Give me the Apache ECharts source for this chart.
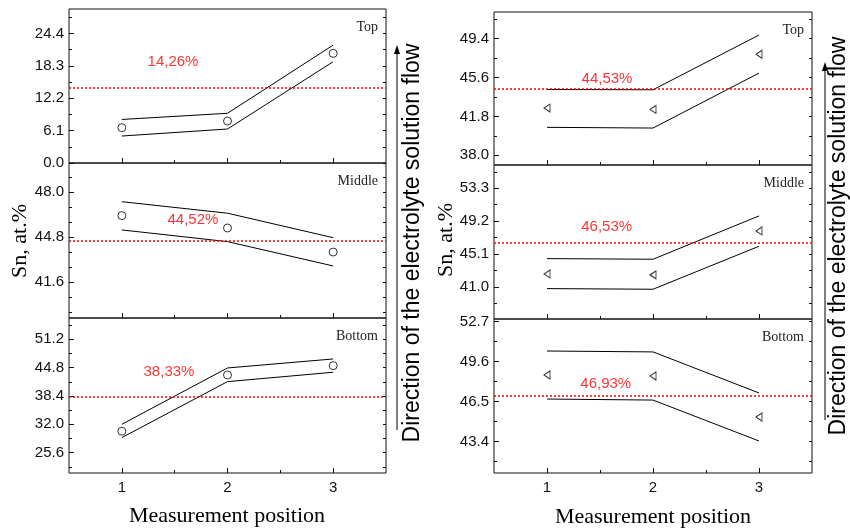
<!DOCTYPE html>
<html><head><meta charset="utf-8">
<script src="https://cdn.jsdelivr.net/npm/echarts@6/dist/echarts.min.js"></script>
<style>html,body{margin:0;padding:0;background:#fff}#c{width:850px;height:528px}</style>
</head><body><div id="c"></div>
<script>
// ---------- data ----------
const positions = [1, 2, 3];
const panelNames = ['Top', 'Middle', 'Bottom'];

// left column (circles)
const leftTopPoints = [6.65, 7.9, 20.65];
const leftTopUpper  = [8.2, 9.36, 22.2];
const leftTopLower  = [5.08, 6.4, 19.07];
const leftTopMean   = 14.26;
const leftTopTicks  = [0.0, 6.1, 12.2, 18.3, 24.4];
const leftTopRange  = [0, 29.0];

const leftMidPoints = [46.34, 45.46, 43.75];
const leftMidUpper  = [47.33, 46.51, 44.77];
const leftMidLower  = [45.32, 44.49, 42.76];
const leftMidMean   = 44.52;
const leftMidTicks  = [41.6, 44.8, 48.0];
const leftMidRange  = [39.06, 50.08];

const leftBotPoints = [30.43, 43.14, 45.24];
const leftBotUpper  = [32.0, 44.72, 46.75];
const leftBotLower  = [28.99, 41.63, 43.75];
const leftBotMean   = 38.33;
const leftBotTicks  = [25.6, 32.0, 38.4, 44.8, 51.2];
const leftBotRange  = [21.0, 56.0];

// right column (triangles)
const rightTopPoints = [42.61, 42.48, 47.87];
const rightTopUpper  = [44.43, 44.40, 49.75];
const rightTopLower  = [40.73, 40.66, 46.03];
const rightTopMean   = 44.53;
const rightTopTicks  = [38.0, 41.8, 45.6, 49.4];
const rightTopRange  = [37.05, 52.0];

const rightMidPoints = [42.62, 42.5, 47.98];
const rightMidUpper  = [44.53, 44.45, 49.85];
const rightMidLower  = [40.79, 40.71, 46.07];
const rightMidMean   = 46.53;
const rightMidTicks  = [41.0, 45.1, 49.2, 53.3];
const rightMidRange  = [37.0, 56.2];

const rightBotPoints = [48.56, 48.48, 45.31];
const rightBotUpper  = [50.42, 50.35, 47.17];
const rightBotLower  = [46.7, 46.62, 43.45];
const rightBotMean   = 46.93;
const rightBotTicks  = [43.4, 46.5, 49.6, 52.7];
const rightBotRange  = [40.97, 52.9];

// ---------- layout (not data) ----------
const gridRects = [
  {left: 69, top: 9,   width: 317, height: 154},
  {left: 69, top: 163, width: 317, height: 155},
  {left: 69, top: 318, width: 317, height: 155},
  {left: 494, top: 12,  width: 318, height: 153},
  {left: 494, top: 165, width: 318, height: 154},
  {left: 494, top: 319, width: 318, height: 154}
];
const meanLabelAt = [[1.484, 19.0], [1.673, 46.03], [1.446, 43.88], [1.566, 45.5], [1.563, 48.48], [1.554, 47.84]];
const minorCounts = [1, 2, 1, 1, 1, 1];

const panels = [
  {points: leftTopPoints, upper: leftTopUpper, lower: leftTopLower, mean: leftTopMean, ticks: leftTopTicks, range: leftTopRange, sym: 'circle', name: panelNames[0]},
  {points: leftMidPoints, upper: leftMidUpper, lower: leftMidLower, mean: leftMidMean, ticks: leftMidTicks, range: leftMidRange, sym: 'circle', name: panelNames[1]},
  {points: leftBotPoints, upper: leftBotUpper, lower: leftBotLower, mean: leftBotMean, ticks: leftBotTicks, range: leftBotRange, sym: 'circle', name: panelNames[2]},
  {points: rightTopPoints, upper: rightTopUpper, lower: rightTopLower, mean: rightTopMean, ticks: rightTopTicks, range: rightTopRange, sym: 'triangle', name: panelNames[0]},
  {points: rightMidPoints, upper: rightMidUpper, lower: rightMidLower, mean: rightMidMean, ticks: rightMidTicks, range: rightMidRange, sym: 'triangle', name: panelNames[1]},
  {points: rightBotPoints, upper: rightBotUpper, lower: rightBotLower, mean: rightBotMean, ticks: rightBotTicks, range: rightBotRange, sym: 'triangle', name: panelNames[2]}
];

function minorValues(ticks, n, min, max) {
  const step = (ticks[1] - ticks[0]) / (n + 1);
  const out = [];
  for (let v = ticks[0] - step; v >= min - 1e-9; v -= step) out.push(v);
  for (let v = ticks[0] + step; v <= max + 1e-9; v += step) {
    if (!ticks.some(t => Math.abs(t - v) < 1e-6)) out.push(v);
  }
  return out;
}

const SANS = '"Liberation Sans", Arial, sans-serif';
const SERIF = '"Liberation Serif", "Times New Roman", serif';
const RED = '#ff0000';
const grid = [], xAxis = [], yAxis = [], series = [], graphic = [];

panels.forEach((p, i) => {
  const r = gridRects[i];
  grid.push(Object.assign({show: true, borderColor: '#111', borderWidth: 1, backgroundColor: 'transparent'}, r));
  const isBottom = (i % 3) === 2;
  const xBase = xAxis.length;
  xAxis.push({
    type: 'value', gridIndex: i, min: 0.5, max: 3.5, position: 'bottom',
    axisLine: {show: false}, splitLine: {show: false},
    axisTick: {show: true, inside: true, length: 5, customValues: positions, lineStyle: {color: '#111'}},
    axisLabel: {show: isBottom, customValues: positions, margin: 7, fontFamily: SANS, fontSize: 15, color: '#111', formatter: v => String(v)}
  });
  xAxis.push({
    type: 'value', gridIndex: i, min: 0.5, max: 3.5, position: 'bottom',
    axisLine: {show: false}, splitLine: {show: false},
    axisTick: {show: true, inside: true, length: 3, customValues: [1.5, 2.5], lineStyle: {color: '#111'}},
    axisLabel: {show: false}
  });
  const yBase = yAxis.length;
  const minors = minorValues(p.ticks, minorCounts[i], p.range[0], p.range[1]);
  yAxis.push({
    type: 'value', gridIndex: i, min: p.range[0], max: p.range[1], position: 'left',
    axisLine: {show: false}, splitLine: {show: false},
    axisTick: {show: true, inside: true, length: 5, customValues: p.ticks, lineStyle: {color: '#111'}},
    axisLabel: {show: true, customValues: p.ticks, margin: 5, fontFamily: SANS, fontSize: 15, color: '#111', formatter: v => Number(v).toFixed(1)}
  });
  yAxis.push({
    type: 'value', gridIndex: i, min: p.range[0], max: p.range[1], position: 'left',
    axisLine: {show: false}, splitLine: {show: false},
    axisTick: {show: true, inside: true, length: 3, customValues: minors, lineStyle: {color: '#111'}},
    axisLabel: {show: false}
  });
  yAxis.push({
    type: 'value', gridIndex: i, min: p.range[0], max: p.range[1], position: 'right',
    axisLine: {show: false}, splitLine: {show: false},
    axisTick: {show: true, inside: true, length: 3, customValues: p.ticks.concat(minors), lineStyle: {color: '#111'}},
    axisLabel: {show: false}
  });
  const lineStyle = {color: '#000', width: 1};
  // mean (red dotted) line
  series.push({
    type: 'line', xAxisIndex: xBase, yAxisIndex: yBase, data: [],
    color: RED, silent: true, animation: false,
    markLine: {
      silent: true, symbol: ['none', 'none'], label: {show: false}, emphasis: {disabled: true},
      lineStyle: {color: RED, type: [2, 2], width: 1.5, opacity: 1},
      data: [{yAxis: p.mean}]
    }
  });
  series.push({
    type: 'line', xAxisIndex: xBase, yAxisIndex: yBase, data: positions.map((x, k) => [x, p.upper[k]]),
    showSymbol: false, symbol: 'none', lineStyle, silent: true, animation: false
  });
  series.push({
    type: 'line', xAxisIndex: xBase, yAxisIndex: yBase, data: positions.map((x, k) => [x, p.lower[k]]),
    showSymbol: false, symbol: 'none', lineStyle, silent: true, animation: false
  });
  series.push({
    type: 'scatter', xAxisIndex: xBase, yAxisIndex: yBase, data: positions.map((x, k) => [x, p.points[k]]),
    symbol: p.sym, symbolSize: p.sym === 'circle' ? 8 : [8, 6], symbolRotate: p.sym === 'circle' ? 0 : 90,
    itemStyle: {color: 'rgba(0,0,0,0)', borderColor: '#000', borderWidth: 1}, animation: false, silent: true
  });
  series.push({
    type: 'scatter', xAxisIndex: xBase, yAxisIndex: yBase, data: [meanLabelAt[i]],
    symbolSize: 1, itemStyle: {color: 'rgba(0,0,0,0)'}, animation: false, silent: true,
    label: {show: true, position: 'inside', color: RED, fontFamily: SANS, fontSize: 15,
      formatter: () => p.mean.toFixed(2).replace('.', ',') + '%'}
  });
  graphic.push({
    type: 'text', x: r.left + r.width - 8, y: r.top + 18,
    style: {text: p.name, fontFamily: SERIF, fontSize: 14, fill: '#222', textAlign: 'right', align: 'right', textVerticalAlign: 'middle', verticalAlign: 'middle'}
  });
});

function vText(x, y, text, font, size) {
  return {type: 'text', x, y, rotation: Math.PI / 2,
    style: {text, fontFamily: font, fontSize: size, fill: '#000', textAlign: 'center', align: 'center', textVerticalAlign: 'middle', verticalAlign: 'middle'}};
}
function hText(x, y, text) {
  return {type: 'text', x, y,
    style: {text, fontFamily: SERIF, fontSize: 22, fill: '#000', textAlign: 'center', align: 'center', textVerticalAlign: 'middle', verticalAlign: 'middle'}};
}
graphic.push(vText(20, 241, 'Sn, at.%', SERIF, 22));
graphic.push(vText(446, 240, 'Sn, at.%', SERIF, 22));
graphic.push(hText(227, 516, 'Measurement position'));
graphic.push(hText(653, 517, 'Measurement position'));
graphic.push(vText(413, 243, 'Direction of the electrolyte solution flow', SANS, 23));
graphic.push(vText(839, 236, 'Direction of the electrolyte solution flow', SANS, 23));
[[397, 430, 45], [825, 420, 62]].forEach(([x, y1, y2]) => {
  graphic.push({type: 'line', shape: {x1: x, y1: y1, x2: x, y2: y2 + 6}, style: {stroke: '#000', lineWidth: 1}});
  graphic.push({type: 'polygon', shape: {points: [[x, y2], [x - 3, y2 + 9], [x + 3, y2 + 9]]}, style: {fill: '#000'}});
});

const chart = echarts.init(document.getElementById('c'), null, {renderer: 'canvas'});
chart.setOption({animation: false, backgroundColor: '#fff', grid, xAxis, yAxis, series, graphic});
</script>
</body></html>
